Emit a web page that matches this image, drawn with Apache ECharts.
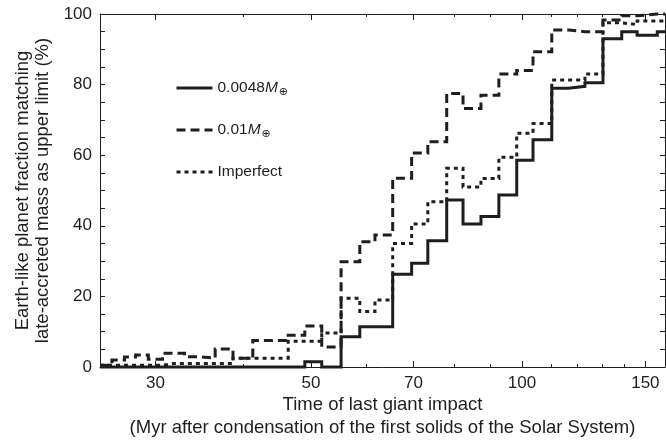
<!DOCTYPE html>
<html>
<head>
<meta charset="utf-8">
<script src="https://cdn.jsdelivr.net/npm/echarts@6/dist/echarts.min.js"></script>
<style>
  html, body { margin: 0; padding: 0; background: #ffffff; }
  #chart { width: 666px; height: 441px; }
</style>
</head>
<body>
<div id="chart"></div>
<script>
// Histogram bin edges (Myr), shared by all three curves
const binEdges = [25, 26.0, 27.1, 28.1, 29.3, 30.7, 31.9, 33.0, 34.7, 36.5, 38.7, 41.3,
  43.8, 46.4, 49.0, 51.8, 55.2, 58.7, 61.7, 65.4, 69.6, 73.4, 78.1, 82.4, 87.4, 92.7,
  98.3, 103.7, 110.3, 116.5, 123.0, 130.5, 138.8, 146.0, 156.0, 160];

// Fraction (%) of Earth-like planets per bin
const fracSolid = [0, 0, 0, 0, 0, 0, 0, 0, 0, 0, 0, 0, 0, 0, 1.5, 0, 8.6, 11.4, 11.4,
  26.3, 29.4, 35.8, 47.3, 40.5, 42.6, 48.7, 58.6, 64.4, 79, 79.5, 80.5, 93, 95, 94, 95];
const fracDashed = [0.5, 2.0, 2.8, 3.4, 2.2, 3.9, 3.9, 2.9, 2.5, 5.1, 2.5, 7.5, 7.5, 9.0,
  11.6, 5.7, 29.8, 35.5, 37.4, 53.5, 60.6, 63.8, 77.5, 73.2, 77, 83, 84, 89.3, 95.5, 95,
  95, 98.3, 99.5, 100, 100];
const fracDotted = [0.5, 0.5, 0.5, 0.5, 0.5, 1.0, 1.0, 1.0, 1.0, 1.0, 2.5, 2.5, 2.5, 7.3,
  7.3, 9.6, 19.5, 15.7, 19, 35, 40.5, 46.8, 56.3, 51, 53.4, 59.4, 66.2, 69, 81.3, 81.3,
  83, 97.5, 97, 98, 98];

const seriesNames = ['0.0048', '0.01', 'Imperfect'];
const xLabelTicks = [30, 50, 70, 100, 150];
const xMinorTicks = [40, 60, 80, 90, 110, 120, 130, 140];

const INK = '#1e1e1e';
const FONT = "'Liberation Sans', Arial, Helvetica, sans-serif";

// turn per-bin levels into step-line points (left edge of each bin + final right edge)
function stepPoints(levels) {
  const pts = levels.map((v, i) => [binEdges[i], v]);
  pts.push([binEdges[binEdges.length - 1], levels[levels.length - 1]]);
  return pts;
}

function xAxisDef(position, ticks, len, showLabels, showLine) {
  return {
    type: 'log', logBase: 10, min: 25, max: 160, position: position,
    axisLine: { show: showLine, lineStyle: { color: INK, width: 1 } },
    axisTick: { show: true, inside: true, length: len, customValues: ticks,
      lineStyle: { color: INK, width: 1 } },
    axisLabel: { show: showLabels, customValues: ticks, margin: 8, color: INK,
      fontSize: 17, fontFamily: FONT, formatter: v => String(Math.round(v)) },
    splitLine: { show: false }, minorTick: { show: false }
  };
}

function yAxisDef(position, showLabels) {
  return {
    type: 'value', min: 0, max: 100, interval: 20, position: position,
    axisLine: { show: true, lineStyle: { color: INK, width: 1 } },
    axisTick: { show: true, inside: true, length: 5, lineStyle: { color: INK, width: 1 } },
    minorTick: { show: true, splitNumber: 4, length: 5, lineStyle: { color: INK, width: 1 } },
    axisLabel: { show: showLabels, margin: 8, color: INK, fontSize: 17, fontFamily: FONT },
    splitLine: { show: false }
  };
}

const xMain = xAxisDef('bottom', xLabelTicks, 6, true, true);
xMain.name = 'Time of last giant impact\n(Myr after condensation of the first solids of the Solar System)';
xMain.nameLocation = 'middle';
xMain.nameGap = 26;
xMain.nameMoveOverlap = false;
xMain.nameTextStyle = { color: INK, fontSize: 18.5, fontFamily: FONT, lineHeight: 23 };

const yMain = yAxisDef('left', true);
yMain.name = 'Earth-like planet fraction matching\nlate-accreted mass as upper limit (%)';
yMain.nameLocation = 'middle';
yMain.nameGap = 41;
yMain.nameTextStyle = { color: INK, fontSize: 18.5, fontFamily: FONT, lineHeight: 20 };

const lineStyles = [
  { type: 'solid', width: 3 },
  { type: [9, 5], width: 3 },
  { type: [4, 4], width: 3 }
];
const levelSets = [fracSolid, fracDashed, fracDotted];

const chart = echarts.init(document.getElementById('chart'), null, { renderer: 'canvas' });
chart.setOption({
  animation: false,
  backgroundColor: '#ffffff',
  grid: { left: 100, right: 1, top: 14, bottom: 74, containLabel: false, outerBoundsMode: 'none' },
  xAxis: [
    xMain,
    xAxisDef('bottom', xMinorTicks, 3, false, false),
    xAxisDef('top', xLabelTicks, 6, false, true),
    xAxisDef('top', xMinorTicks, 3, false, false)
  ],
  yAxis: [yMain, yAxisDef('right', false)],
  legend: {
    orient: 'vertical', left: 170, top: 75,
    itemWidth: 36, itemHeight: 14, itemGap: 24,
    data: seriesNames,
    itemStyle: { opacity: 0 },
    lineStyle: { width: 3 },
    textStyle: {
      color: INK, fontSize: 15.5, fontFamily: FONT,
      rich: {
        n: { fontSize: 15.5, fontFamily: FONT, color: INK },
        m: { fontSize: 15.5, fontFamily: FONT, color: INK, fontStyle: 'italic' },
        s: { fontSize: 11, fontFamily: "'DejaVu Sans', sans-serif", color: INK, padding: [9, 0, 0, 1] }
      }
    },
    formatter: name => name === 'Imperfect' ? '{n|Imperfect}' : '{n|' + name + '}{m|M}{s|\u2295}'
  },
  series: seriesNames.map((name, k) => ({
    name: name,
    type: 'line',
    step: 'end',
    xAxisIndex: 0,
    yAxisIndex: 0,
    clip: false,
    symbol: 'none',
    z: 10 - k,
    color: INK,
    lineStyle: Object.assign({ color: INK, cap: 'butt', join: 'miter' }, lineStyles[k]),
    data: stepPoints(levelSets[k])
  }))
});
</script>
</body>
</html>
